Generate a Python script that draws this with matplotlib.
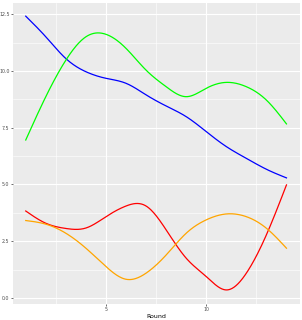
import numpy as np
import matplotlib.pyplot as plt
from matplotlib.ticker import MultipleLocator

rounds = np.arange(1, 15)
blue = [12.42, 11.51, 10.55, 9.97, 9.68, 9.46, 8.95, 8.46, 7.99, 7.33, 6.67, 6.15, 5.67, 5.29]
green = [6.96, 8.87, 10.48, 11.51, 11.62, 11.0, 10.04, 9.31, 8.87, 9.24, 9.5, 9.31, 8.72, 7.67]
red = [3.83, 3.29, 3.06, 3.08, 3.58, 4.05, 4.05, 3.0, 1.75, 0.94, 0.35, 1.09, 2.78, 4.98]
orange = [3.41, 3.25, 2.85, 2.19, 1.38, 0.82, 1.09, 1.89, 2.85, 3.44, 3.70, 3.58, 3.07, 2.19]

series = [(blue, "blue"), (green, "#00FF00"), (red, "red"), (orange, "orange")]


def spline(x, y, n=400):
    # natural cubic spline, only used to draw a smooth line through the points
    x = np.asarray(x, float)
    y = np.asarray(y, float)
    k = len(x)
    h = np.diff(x)
    A = np.zeros((k, k))
    b = np.zeros(k)
    A[0, 0] = A[-1, -1] = 1
    for i in range(1, k - 1):
        A[i, i - 1] = h[i - 1]
        A[i, i] = 2 * (h[i - 1] + h[i])
        A[i, i + 1] = h[i]
        b[i] = 6 * ((y[i + 1] - y[i]) / h[i] - (y[i] - y[i - 1]) / h[i - 1])
    m = np.linalg.solve(A, b)
    xs = np.linspace(x[0], x[-1], n)
    idx = np.clip(np.searchsorted(x, xs) - 1, 0, k - 2)
    x0, x1 = x[idx], x[idx + 1]
    hh = x1 - x0
    t0, t1 = x1 - xs, xs - x0
    ys = (m[idx] * t0**3 / (6 * hh) + m[idx + 1] * t1**3 / (6 * hh)
          + (y[idx] / hh - m[idx] * hh / 6) * t0
          + (y[idx + 1] / hh - m[idx + 1] * hh / 6) * t1)
    return xs, ys


fig = plt.figure(figsize=(3.02, 3.20), dpi=100)
ax = fig.add_axes([12.7 / 302, 1 - 304 / 320, (299.5 - 12.7) / 302, (304 - 3) / 320])
ax.set_facecolor("#EBEBEB")
for s in ax.spines.values():
    s.set_visible(False)

ax.xaxis.set_major_locator(MultipleLocator(5))
ax.xaxis.set_minor_locator(MultipleLocator(2.5))
ax.yaxis.set_major_locator(MultipleLocator(2.5))
ax.yaxis.set_minor_locator(MultipleLocator(1.25))
ax.grid(which="major", color="white", linewidth=0.8)
ax.grid(which="minor", color="white", linewidth=0.4)
ax.set_axisbelow(True)

for vals, col in series:
    xs, ys = spline(rounds, vals)
    ax.plot(xs, ys, color=col, linewidth=0.9)

ax.set_xlim(0.35, 14.65)
ax.set_ylim(-0.27, 13.0)
ax.set_xticks([5, 10])
ax.yaxis.set_major_formatter(plt.FuncFormatter(lambda v, p: f"{v:.1f}"))
ax.tick_params(which="major", length=1.5, width=0.5, color="#333333",
               labelsize=3.4, labelcolor="#4D4D4D", pad=0.8)
ax.tick_params(which="minor", length=0)
ax.set_xlabel("Round", fontsize=4.5, color="black", labelpad=1)

fig.savefig("out.png", dpi=100)
